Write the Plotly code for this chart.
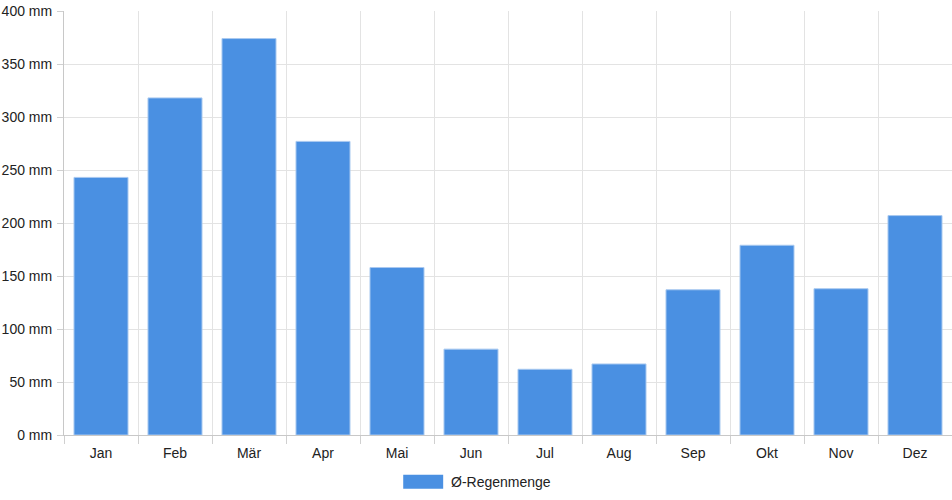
import plotly.graph_objects as go

months = ["Jan", "Feb", "Mär", "Apr", "Mai", "Jun", "Jul", "Aug", "Sep", "Okt", "Nov", "Dez"]
rain_mm = [243, 318, 374, 277, 158, 81, 62, 67, 137, 179, 138, 207]
series_name = "Ø-Regenmenge"

bar_color = "#4a90e2"
grid_color = "#e3e3e3"

fig = go.Figure()
fig.add_trace(
    go.Bar(
        x=months,
        y=rain_mm,
        name=series_name,
        marker=dict(color=bar_color, line=dict(color="#a9c9f0", width=1)),
        showlegend=False,
    )
)

fig.update_layout(
    width=952,
    height=500,
    margin=dict(l=64, r=0, t=11, b=65),
    plot_bgcolor="white",
    paper_bgcolor="white",
    bargap=0.27,
    font=dict(family="Liberation Sans, Arial, sans-serif", size=14, color="#222"),
)

fig.update_xaxes(
    type="category",
    tickson="boundaries",
    ticks="outside",
    ticklen=8,
    tickcolor="#d0d0d0",
    ticklabelstandoff=5,
    showgrid=True,
    gridcolor=grid_color,
    showline=True,
    linecolor="#c8c8c8",
    tickfont=dict(size=14),
)
fig.update_yaxes(
    range=[0, 400],
    dtick=50,
    ticksuffix=" mm",
    ticks="outside",
    ticklen=6,
    tickcolor="#d0d0d0",
    ticklabelstandoff=2,
    showgrid=True,
    gridcolor=grid_color,
    showline=True,
    linecolor="#c8c8c8",
    zeroline=False,
    tickfont=dict(size=14),
)

# legend drawn by hand to get the wide swatch
fig.add_shape(
    type="rect", xref="paper", yref="paper",
    x0=0.382, x1=0.427, y0=-0.094, y1=-0.127,
    fillcolor=bar_color, line=dict(width=0),
)
fig.add_annotation(
    text=series_name, xref="paper", yref="paper",
    x=0.433, y=-0.111, xanchor="left", yanchor="middle",
    showarrow=False, font=dict(size=14),
)

# drop the default body margin so the figure starts at the page corner
fig.write_html(
    "out.html",
    config={"displayModeBar": False},
    post_script="document.body.style.margin='0';",
)
